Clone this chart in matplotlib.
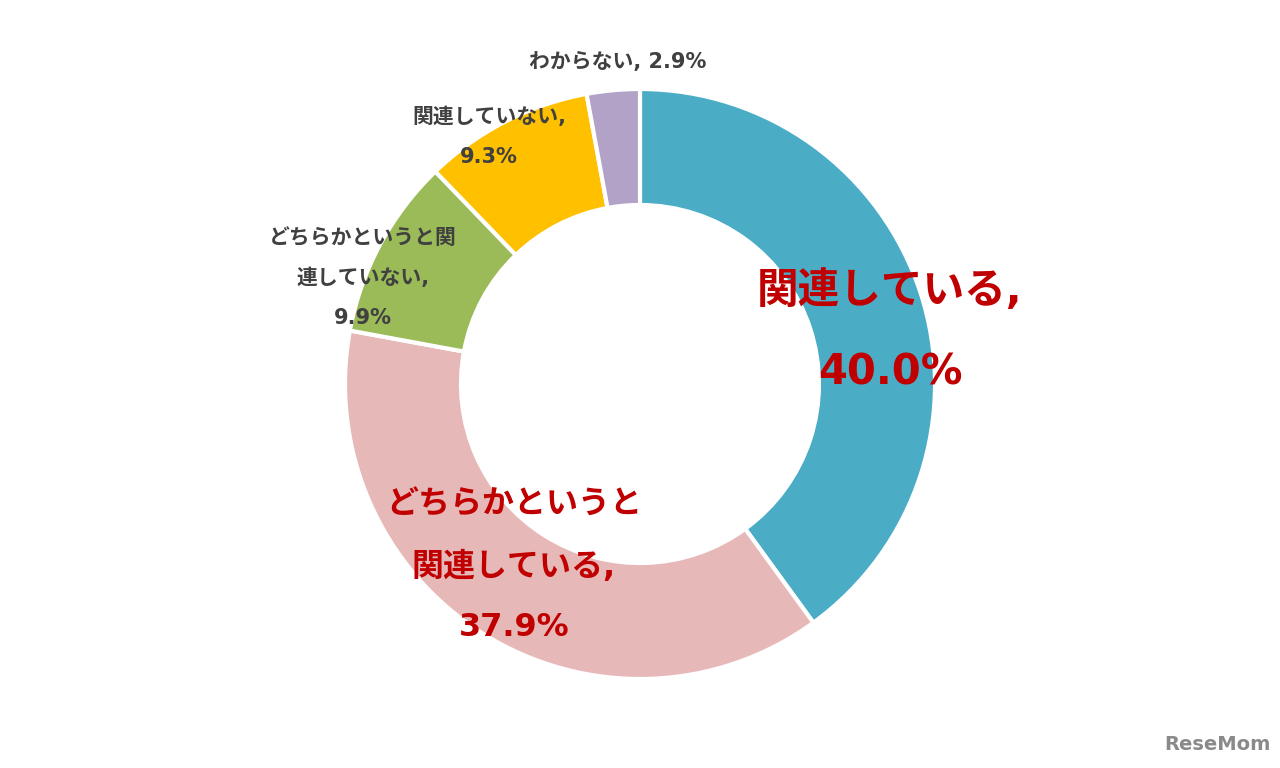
import matplotlib
matplotlib.use("Agg")
import matplotlib.pyplot as plt

plt.rcParams['font.family'] = ['DejaVu Sans', 'Noto Sans CJK JP']

categories = ["関連している", "どちらかというと関連している", "どちらかというと関連していない",
              "関連していない", "わからない"]
values = [40.0, 37.9, 9.9, 9.3, 2.9]
colors = ["#4BACC6", "#E6B9B8", "#9BBB59", "#FFC000", "#B2A2C7"]
label_texts = ["関連している,\n40.0%", "どちらかというと\n関連している,\n37.9%",
               "どちらかというと関\n連していない,\n9.9%", "関連していない,\n9.3%",
               "わからない, 2.9%"]

W, H = 1280, 768
fig = plt.figure(figsize=(W / 100, H / 100), dpi=100)
ax = fig.add_axes([0, 0, 1, 1])
ax.set_xlim(0, W)
ax.set_ylim(0, H)
ax.set_aspect('equal')
ax.axis('off')

cx, cy = 640, H - 384
R = 295
width = 116
ax.pie(values, colors=colors, startangle=90, counterclock=False,
       center=(cx, cy), radius=R, frame=True,
       wedgeprops=dict(width=width, edgecolor='white', linewidth=3))
ax.set_xlim(0, W)
ax.set_ylim(0, H)
ax.axis('off')

# label positions (pixel centres, top-origin) and styles
pos = [(890, 332), (514, 566), (363, 278), (489, 137), (618, 62)]
sizes = [30, 23, 15, 15, 15]
cols = ["#C00000", "#C00000", "#404040", "#404040", "#404040"]
spacing = [2.2, 2.2, 2.25, 2.25, 1.2]
for t, (x, y), s, c, ls in zip(label_texts, pos, sizes, cols, spacing):
    ax.text(x, H - y, t, ha='center', va='center', fontsize=s, color=c,
            fontweight='bold', linespacing=ls)

ax.text(1217, H - 745, "ReseMom", ha='center', va='center', fontsize=14,
        color='#8a8a8a', fontweight='bold')

fig.savefig("out.png", dpi=100)
